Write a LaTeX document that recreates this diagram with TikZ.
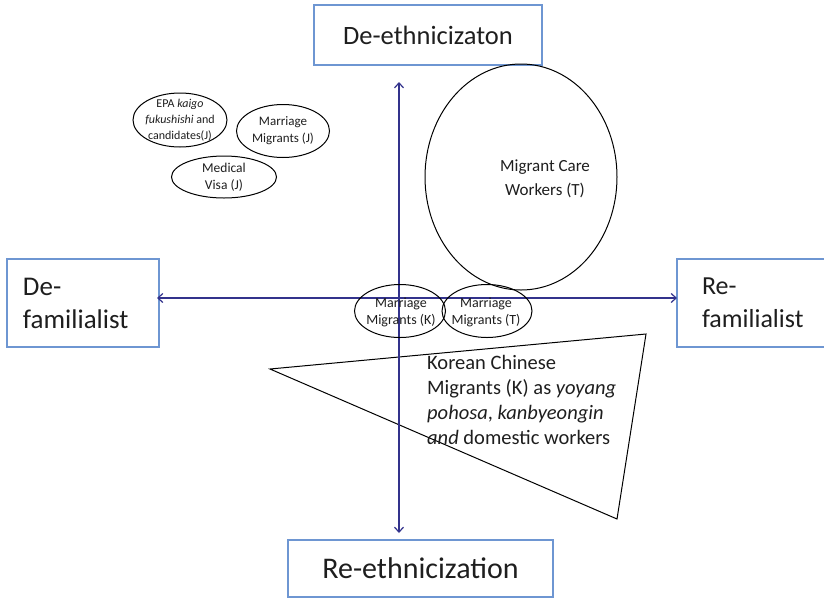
\documentclass[tikz,border=0pt]{standalone}
\usepackage{fontspec}
\setmainfont{Carlito}
\usetikzlibrary{shapes.geometric,arrows.meta}
\definecolor{boxblue}{RGB}{110,150,210}
\definecolor{axisblue}{RGB}{50,50,140}
\definecolor{txt}{RGB}{30,30,30}
\tikzset{
  catbox/.style={draw=boxblue, line width=1.2pt, inner sep=0pt, text=txt},
  oval/.style={draw=black, ellipse, line width=1pt, inner sep=0pt},
  ovtext/.style={align=center, text=txt, inner sep=0pt, font=\fontsize{12}{16}\selectfont},
  axisline/.style={draw=axisblue, line width=1.2pt, {Straight Barb[length=5pt,width=9pt]}-{Straight Barb[length=5pt,width=9pt]}},
}
\begin{document}
\begin{tikzpicture}[x=1pt,y=-1pt]
\useasboundingbox (0,0) rectangle (824,598);
% category boxes
\node[catbox, minimum width=228pt, minimum height=60pt, font=\fontsize{26.5}{30}\selectfont] (top) at (428,35) {De-ethnicizaton};
\node[catbox, minimum width=265pt, minimum height=57pt, font=\fontsize{30}{30}\selectfont] (bot) at (420.5,568.5) {Re-ethnicization};
\node[catbox, minimum width=152pt, minimum height=88pt, align=left, font=\fontsize{27}{33}\selectfont, text width=134pt] (left) at (83,303) {\hspace*{7pt}De-\\\hspace*{7pt}familialist};
\node[catbox, minimum width=150pt, minimum height=88pt, align=left, font=\fontsize{26}{33}\selectfont, text width=126pt] (right) at (752,303) {\hspace*{13pt}Re-\\\hspace*{13pt}familialist};
% axes
\coordinate (vt) at (399,82);
\coordinate (vb) at (399,533);
\coordinate (hl) at (157,298);
\coordinate (hr) at (677,298);
% big circle
\node[oval, minimum width=192pt, minimum height=226pt] (mcw) at (521,177) {};
\node[ovtext, font=\fontsize{17}{24}\selectfont] (mcwt) at (545,179) {Migrant Care\\Workers (T)};
% small ellipses
\node[oval, minimum width=94pt, minimum height=54pt] (epa) at (180,120) {};
\node[ovtext] (epat) at (epa) {EPA \textit{kaigo}\\\textit{fukushishi} and\\candidates(J)};
\node[oval, minimum width=93pt, minimum height=53pt] (mj) at (283,131) {};
\node[ovtext, font=\fontsize{13}{17}\selectfont] (mjt) at (mj) {Marriage\\Migrants (J)};
\node[oval, minimum width=105pt, minimum height=42pt] (mv) at (224,177) {};
\node[ovtext, font=\fontsize{13.5}{17}\selectfont] (mvt) at (mv) {Medical\\Visa (J)};
% triangle
\coordinate (t1) at (270,369);
\coordinate (t2) at (646,334);
\coordinate (t3) at (617,519);
\draw[line width=1pt] (t1) -- (t2) -- (t3) -- cycle;
\node[anchor=north west, align=left, text=txt, font=\fontsize{20.5}{25}\selectfont, inner sep=0pt] (kc) at (427,355) {Korean Chinese\\Migrants (K) as \textit{yoyang}\\\textit{pohosa}, \textit{kanbyeongin}\\\textit{and} domestic workers};
% axes drawn
\draw[axisline] (hl) -- (hr);
\draw[axisline] (vb) -- (vt);
% marriage migrants K and T
\node[oval, minimum width=91pt, minimum height=53pt] (mk) at (400,311) {};
\node[ovtext, font=\fontsize{14}{17}\selectfont] (mkt) at (401,312) {Marriage\\Migrants (K)};
\node[oval, minimum width=90pt, minimum height=53pt] (mt) at (487,311) {};
\node[ovtext, font=\fontsize{14}{17}\selectfont] (mtt) at (486,312) {Marriage\\Migrants (T)};
\end{tikzpicture}
\end{document}
